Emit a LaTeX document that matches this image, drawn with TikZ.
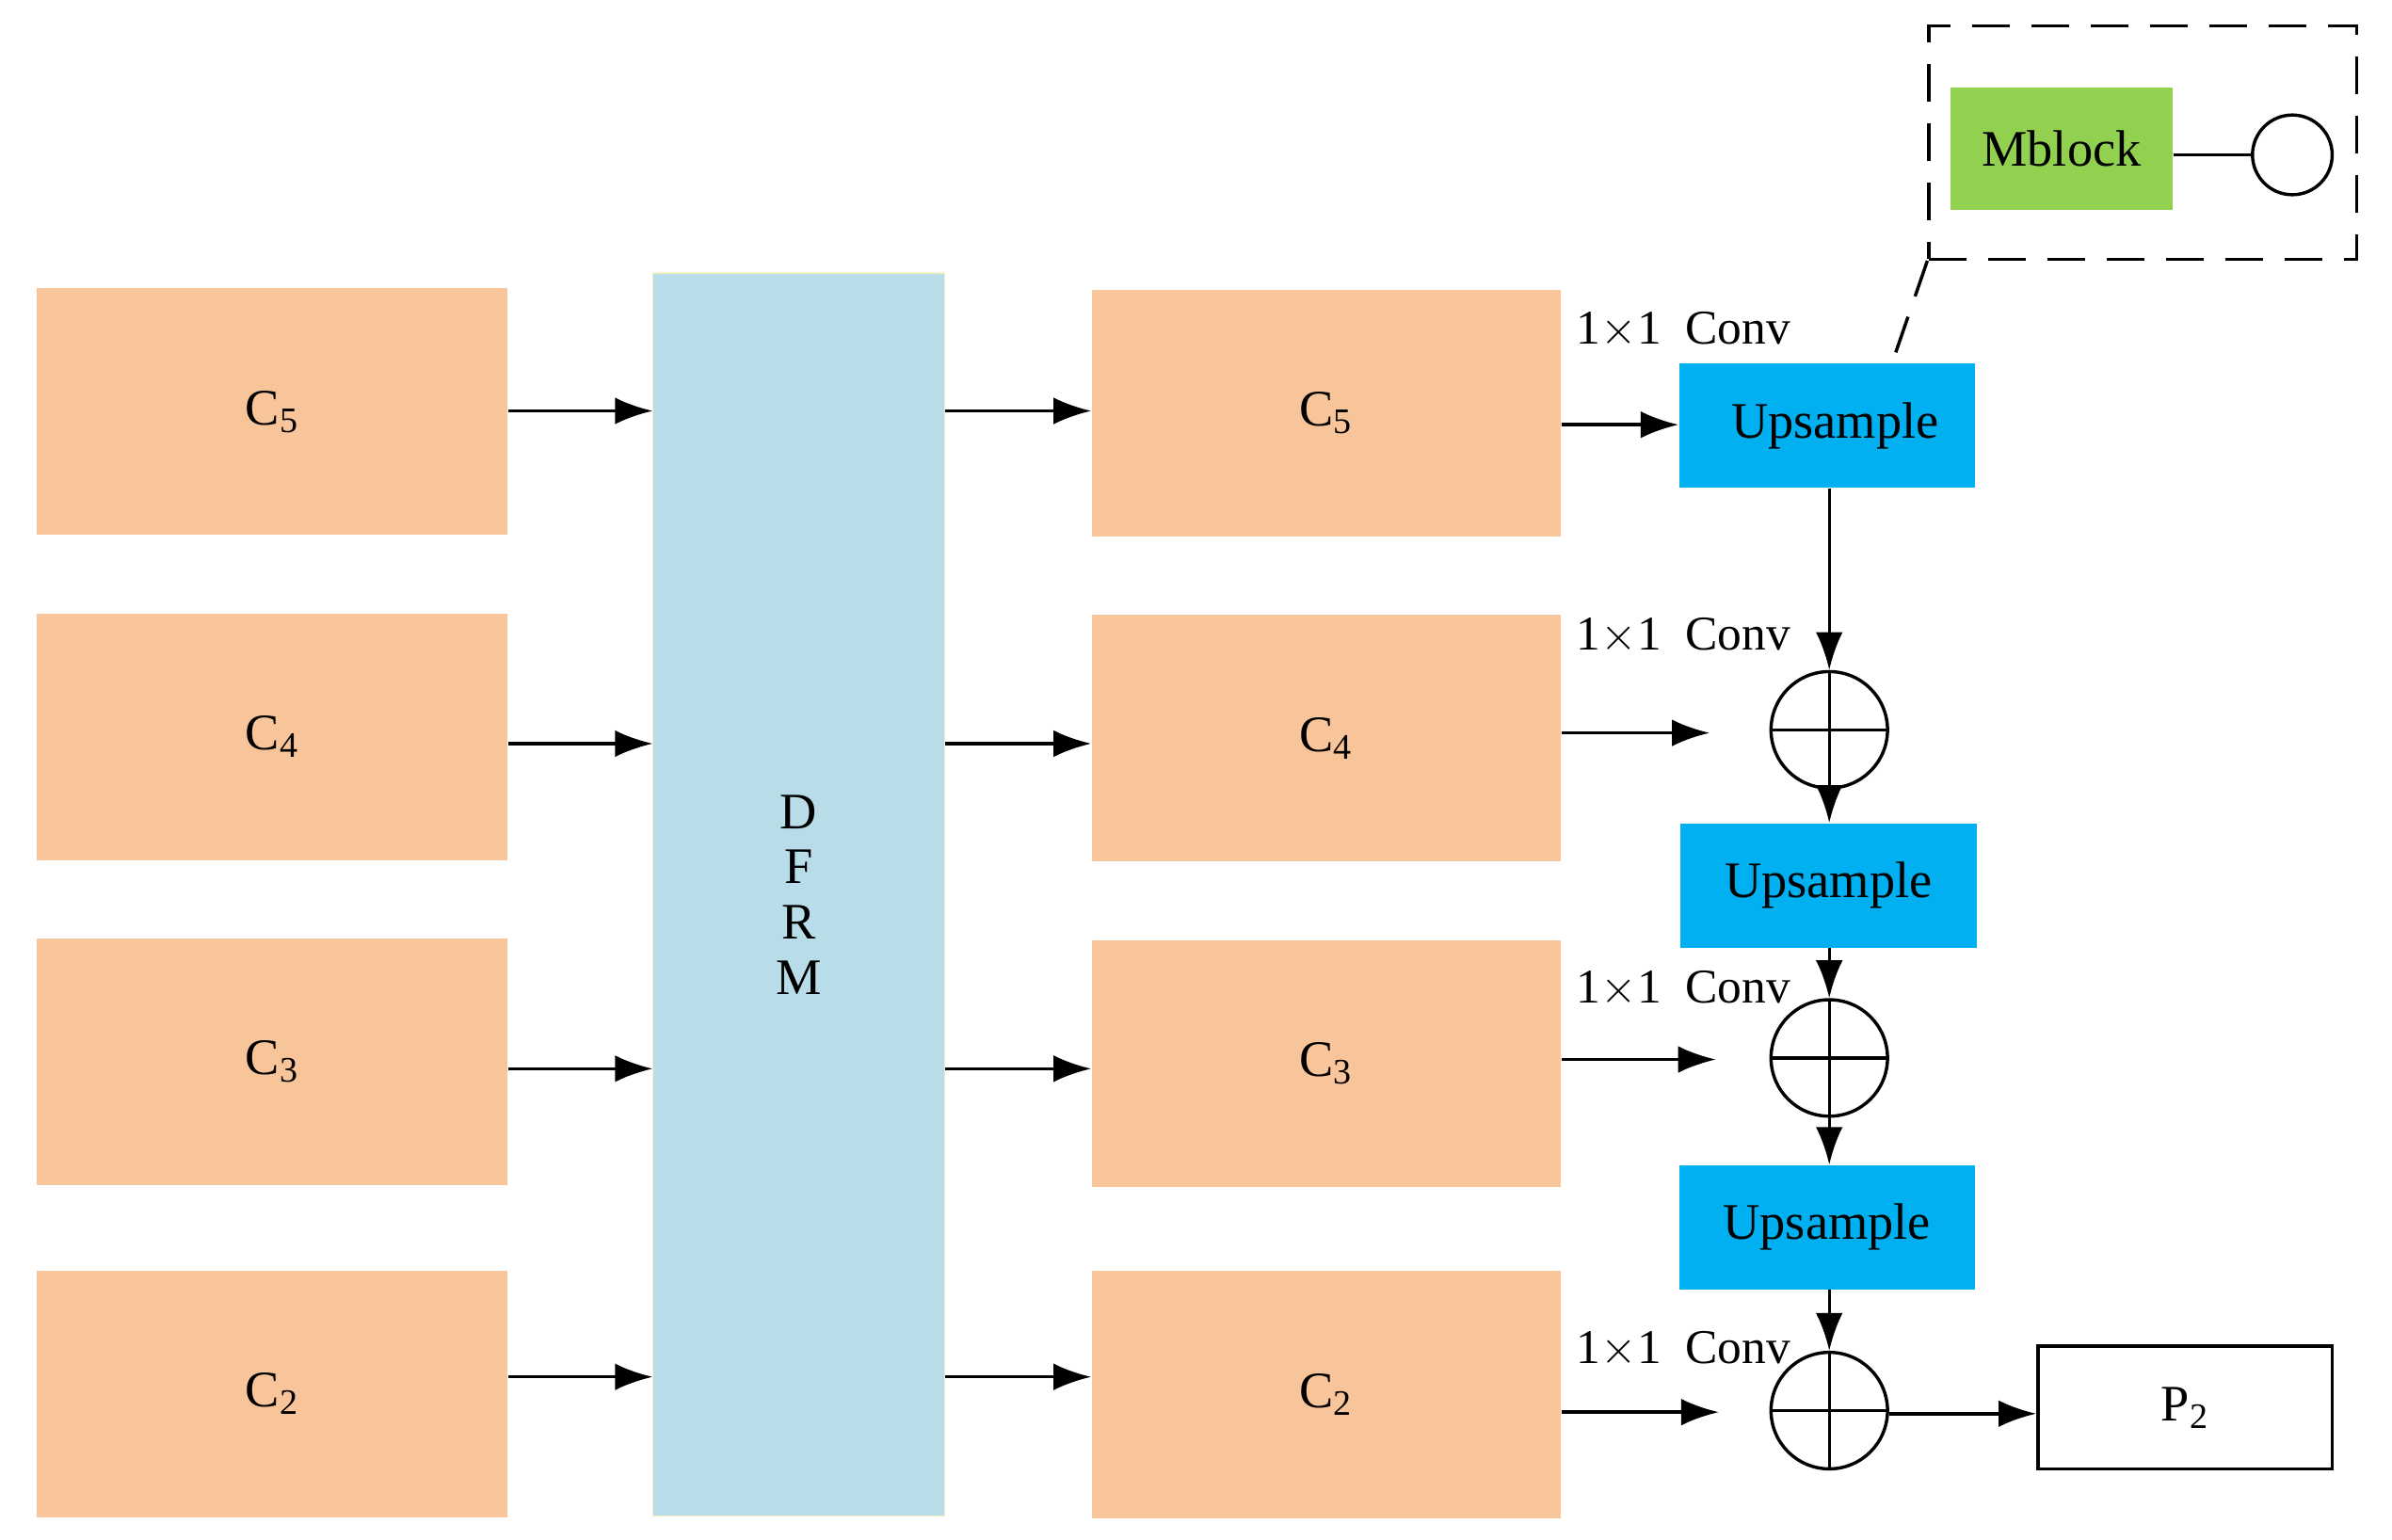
\documentclass[tikz,border=0pt]{standalone}
\usepackage{fontspec}
\setmainfont{Liberation Serif}
\usetikzlibrary{arrows.meta}
\begin{document}
\begin{tikzpicture}[x=0.02cm,y=-0.02cm,
 peach/.style={draw=none,font=\fontsize{19}{22}\selectfont},
 up/.style={draw=none,font=\fontsize{19}{22}\selectfont},
 arr/.style={line width=1.2pt,arrows={-Latex[length=14pt,width=10pt]}},
 opl/.style={circle,draw,line width=1.2pt,minimum size=1.52cm,inner sep=0pt,path picture={\draw[line width=1.2pt] (path picture bounding box.north)--(path picture bounding box.south) (path picture bounding box.west)--(path picture bounding box.east);}},
 conv/.style={anchor=west,font=\fontsize{18}{20}\selectfont}]
\useasboundingbox (0,0) rectangle (1560,1004);
\definecolor{pc}{HTML}{F8C499}
\definecolor{uc}{HTML}{00B0F0}
\tikzset{peach/.append style={fill=pc},up/.append style={fill=uc}}
% left
\node[peach,minimum width=6.14cm,minimum height=3.22cm] (l5) at (177.5,268.5) {C\textsubscript{5}};
\node[peach,minimum width=6.14cm,minimum height=3.22cm] (l4) at (177.5,480.5) {C\textsubscript{4}};
\node[peach,minimum width=6.14cm,minimum height=3.22cm] (l3) at (177.5,692.5) {C\textsubscript{3}};
\node[peach,minimum width=6.14cm,minimum height=3.22cm] (l2) at (177.5,909) {C\textsubscript{2}};
\node[fill={rgb,255:red,184;green,221;blue,232},draw={rgb,255:red,245;green,240;blue,200},minimum width=3.8cm,minimum height=16.22cm,align=center,font=\fontsize{19}{20.5}\selectfont] (d) at (521,583.5) {D\\F\\R\\M};
\node[peach,minimum width=6.12cm,minimum height=3.22cm] (m5) at (865,269.5) {C\textsubscript{5}};
\node[peach,minimum width=6.12cm,minimum height=3.22cm] (m4) at (865,481.5) {C\textsubscript{4}};
\node[peach,minimum width=6.12cm,minimum height=3.22cm] (m3) at (865,693.5) {C\textsubscript{3}};
\node[peach,minimum width=6.12cm,minimum height=3.22cm] (m2) at (865,909.5) {C\textsubscript{2}};
\foreach \i/\y in {5/268,4/485,3/697,2/898}{
 \draw[arr] (l\i.east|-0,\y) -- (d.west|-0,\y);
 \draw[arr] (d.east|-0,\y) -- (m\i.west|-0,\y);}
\node[up,minimum width=3.86cm,minimum height=1.62cm] (u1) at (1191.5,277.5) {\hspace{6pt}Upsample};
\node[up,minimum width=3.86cm,minimum height=1.62cm] (u2) at (1192.5,577.5) {Upsample};
\node[up,minimum width=3.86cm,minimum height=1.62cm] (u3) at (1191.5,800.5) {Upsample};
\node[opl] (o1) at (1193,476) {};
\node[opl] (o2) at (1193,690) {};
\node[opl] (o3) at (1193,920) {};
\node[draw,line width=1.2pt,minimum width=3.84cm,minimum height=1.6cm,font=\fontsize{19}{22}\selectfont] (p2) at (1425,918) {P\textsubscript{2}};
\coordinate (e4) at (1115,478); \coordinate (e3) at (1119,691); \coordinate (e2) at (1121,921);
\draw[arr] (m5.east|-0,277) -- (u1.west|-0,277);
\draw[arr] (m4.east|-0,478) -- (e4);
\draw[arr] (m3.east|-0,691) -- (e3);
\draw[arr] (m2.east|-0,921) -- (e2);
\draw[arr] (u1.south-|1193,0) -- (o1.north);
\draw[arr] (o1.center) -- (u2.north-|1193,0);
\draw[arr] (u2.south-|1193,0) -- (o2.north);
\draw[arr] (o2.center) -- (u3.north-|1193,0);
\draw[arr] (u3.south-|1193,0) -- (o3.north);
\draw[arr] (o3.east|-0,922) -- (p2.west|-0,922);
\foreach \y in {215,415,645,880} \node[conv] at (1022,\y) {1$\times$1\enspace Conv};
% inset
\node[draw,dash pattern=on 14pt off 8pt,line width=1.2pt,minimum width=5.58cm,minimum height=3.04cm] (db) at (1397.5,93) {};
\draw[dash pattern=on 14pt off 8pt,line width=1.2pt] (db.south west) -- (u1.north-|1234,0);
\node[fill={rgb,255:red,146;green,208;blue,80},minimum width=2.9cm,minimum height=1.6cm,font=\fontsize{19}{22}\selectfont] (mb) at (1344.5,97) {Mblock};
\node[circle,draw,line width=1.2pt,minimum size=1.04cm,inner sep=0pt] (c) at (1495,101) {};
\draw[line width=1.2pt] (mb.east|-0,101) -- (c.west);
\end{tikzpicture}
\end{document}
